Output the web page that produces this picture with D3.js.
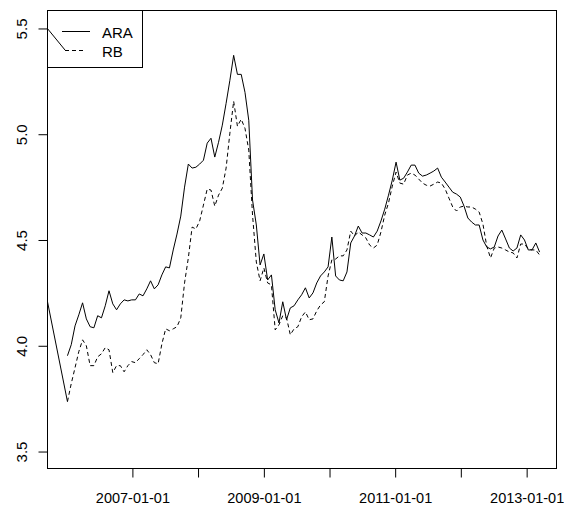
<!DOCTYPE html>
<html><head><meta charset="utf-8">
<script src="https://cdn.jsdelivr.net/npm/d3@7"></script>
<style>body{margin:0;background:#fff} svg{display:block}</style>
</head><body>
<svg id="c" width="564" height="507"></svg>
<script>
// ---- data ----
const seriesNames = ["ARA", "RB"];
const startDate = "2006-01-05";   // first observation
const stepDays = 21;              // spacing between observations
const ara = [3.953,4.005,4.094,4.146,4.203,4.127,4.090,4.085,4.142,4.132,4.189,4.260,4.198,4.170,4.198,4.217,4.212,4.217,4.217,4.245,
4.236,4.269,4.307,4.269,4.288,4.335,4.373,4.368,4.453,4.528,4.613,4.750,4.859,4.840,4.844,4.859,4.877,4.958,4.981,4.892,
4.962,5.043,5.146,5.255,5.373,5.283,5.283,5.198,5.066,4.689,4.571,4.382,4.434,4.311,4.335,4.170,4.108,4.208,4.123,4.179,
4.189,4.217,4.241,4.274,4.226,4.250,4.297,4.330,4.349,4.373,4.514,4.330,4.311,4.307,4.349,4.486,4.519,4.566,4.533,4.533,
4.524,4.514,4.542,4.590,4.646,4.712,4.783,4.868,4.783,4.792,4.821,4.854,4.854,4.816,4.802,4.807,4.816,4.826,4.840,4.797,
4.774,4.750,4.726,4.717,4.703,4.660,4.604,4.585,4.571,4.571,4.500,4.467,4.458,4.467,4.519,4.547,4.505,4.462,4.448,4.462,
4.524,4.500,4.453,4.453,4.486,4.443];
const rb = [3.736,3.821,3.896,3.972,4.028,4.000,3.906,3.906,3.948,3.962,3.991,3.981,3.873,3.906,3.906,3.877,3.906,3.925,3.920,3.939,
3.958,3.981,3.958,3.920,3.915,4.009,4.080,4.071,4.080,4.090,4.132,4.297,4.415,4.561,4.552,4.590,4.665,4.741,4.736,4.660,
4.712,4.745,4.840,5.005,5.156,5.038,5.071,5.028,4.925,4.618,4.396,4.307,4.368,4.297,4.288,4.075,4.099,4.142,4.132,4.052,
4.080,4.090,4.137,4.160,4.123,4.127,4.165,4.193,4.208,4.330,4.406,4.410,4.425,4.425,4.453,4.542,4.519,4.538,4.524,4.510,
4.476,4.462,4.476,4.538,4.618,4.675,4.755,4.821,4.769,4.764,4.807,4.816,4.807,4.788,4.769,4.759,4.755,4.764,4.774,4.769,
4.741,4.698,4.656,4.637,4.656,4.660,4.656,4.656,4.646,4.632,4.575,4.472,4.415,4.462,4.467,4.462,4.453,4.443,4.439,4.415,
4.481,4.481,4.458,4.453,4.453,4.429];
// stray solid segment entering from the left edge
const strayDates = ["2005-09-16", "2006-01-05"];
const strayValues = [4.208, 3.736];
const yTicks = [3.5, 4.0, 4.5, 5.0, 5.5];
const xTickDates = ["2007-01-01","2008-01-01","2009-01-01","2010-01-01","2011-01-01","2012-01-01","2013-01-01"];
const xTickLabels = ["2007-01-01","","2009-01-01","","2011-01-01","","2013-01-01"];
const xDomain = ["2005-09-16", "2013-06-16"];
const yDomain = [3.4198, 5.5849];

// ---- drawing ----
const parse = d3.utcParse("%Y-%m-%d");
const start = parse(startDate);
const dates = ara.map((_, i) => d3.utcDay.offset(start, i * stepDays));

const L = 47.5, R = 556.5, T = 10.5, B = 468.5;
const svg = d3.select("#c");
const font = "'Liberation Sans', Arial, Helvetica, sans-serif";

const x = d3.scaleUtc().domain(xDomain.map(parse)).range([L, R]);
const y = d3.scaleLinear().domain(yDomain).range([B, T]);

svg.append("defs").append("clipPath").attr("id", "clip")
  .append("rect").attr("x", L).attr("y", T).attr("width", R - L).attr("height", B - T);

const line = d3.line().x(d => x(d[0])).y(d => y(d[1]));
const g = svg.append("g").attr("clip-path", "url(#clip)");

g.append("path").datum(strayDates.map((d, i) => [parse(d), strayValues[i]]))
  .attr("d", line).attr("fill", "none").attr("stroke", "#000").attr("stroke-width", 1);
g.append("path").datum(dates.map((d, i) => [d, ara[i]]))
  .attr("d", line).attr("fill", "none").attr("stroke", "#000").attr("stroke-width", 1);
g.append("path").datum(dates.map((d, i) => [d, rb[i]]))
  .attr("d", line).attr("fill", "none").attr("stroke", "#000").attr("stroke-width", 1)
  .attr("stroke-dasharray", "4,3");

// y axis
const yAxis = d3.axisLeft(y).tickValues(yTicks).tickFormat(d3.format(".1f")).tickSize(9).tickPadding(0);
const ya = svg.append("g").attr("transform", `translate(${L},0)`).call(yAxis);
ya.select(".domain").remove();
ya.selectAll("line").attr("stroke", "#000");
ya.selectAll("text").remove();
ya.selectAll(".tick").append("text")
  .attr("transform", "translate(-21,0) rotate(-90)")
  .attr("text-anchor", "middle").attr("fill", "#000")
  .style("font-family", font).style("font-size", "15px")
  .text(d => d3.format(".1f")(d));

// x axis
const xAxis = d3.axisBottom(x).tickValues(xTickDates.map(parse))
  .tickFormat((d, i) => xTickLabels[i]).tickSize(9).tickPadding(14);
const xa = svg.append("g").attr("transform", `translate(0,${B})`).call(xAxis);
xa.select(".domain").remove();
xa.selectAll("line").attr("stroke", "#000");
xa.selectAll("text").attr("fill", "#000").style("font-family", font).style("font-size", "14.5px")
  .attr("dy", null).attr("y", 34.5);

// frame
svg.append("rect").attr("x", L).attr("y", T).attr("width", R - L).attr("height", B - T)
  .attr("fill", "none").attr("stroke", "#000").attr("stroke-width", 1);

// legend
const lg = svg.append("g");
lg.append("rect").attr("x", L).attr("y", T).attr("width", 95).attr("height", 57)
  .attr("fill", "none").attr("stroke", "#000");
lg.append("line").attr("x1", 47).attr("y1", 28).attr("x2", 65).attr("y2", 50).attr("stroke", "#000");
lg.append("line").attr("x1", 62).attr("y1", 31.5).attr("x2", 90).attr("y2", 31.5).attr("stroke", "#000");
lg.append("line").attr("x1", 65).attr("y1", 50.5).attr("x2", 85).attr("y2", 50.5).attr("stroke", "#000")
  .attr("stroke-dasharray", "4,3");
lg.selectAll("text.lab").data(seriesNames).join("text").attr("class", "lab")
  .attr("x", 102).attr("y", (d, i) => 38 + i * 19)
  .style("font-family", font).style("font-size", "15px").attr("fill", "#000")
  .text(d => d);
</script>
</body></html>
